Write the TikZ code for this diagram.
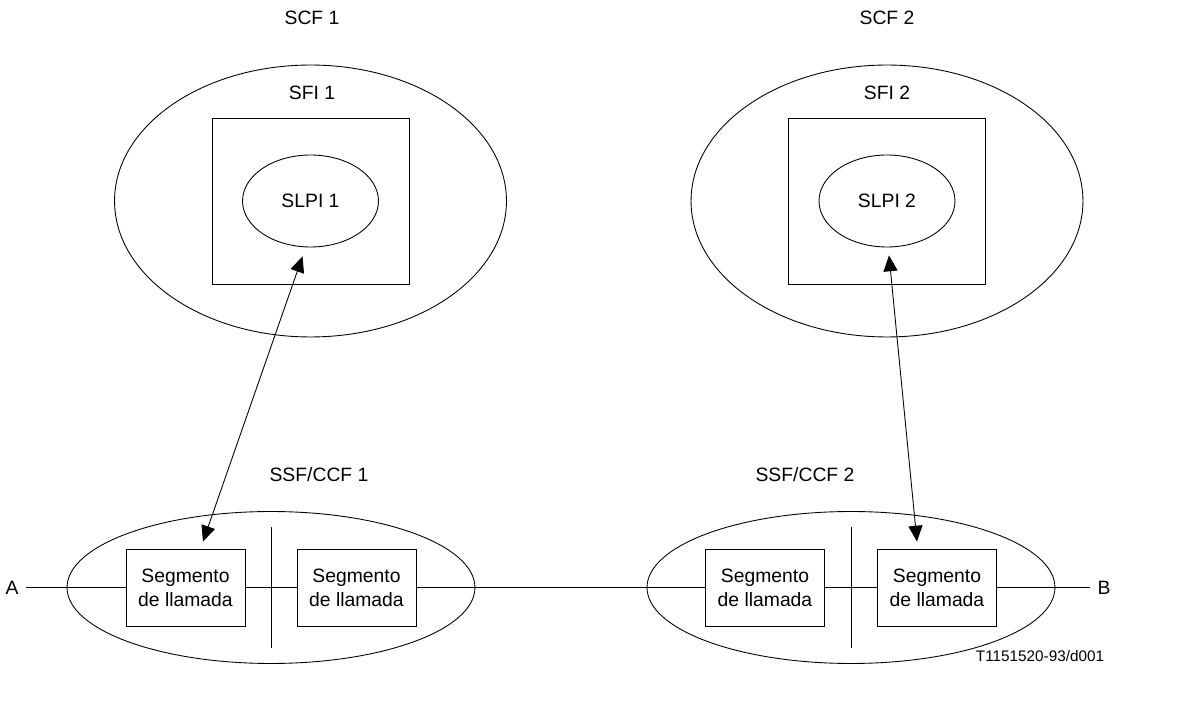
\documentclass[tikz,border=0pt]{standalone}
\usepackage{fontspec}
\setmainfont{Liberation Sans}
\usetikzlibrary{shapes.geometric,arrows.meta,positioning,calc}

\begin{document}
\begin{tikzpicture}[
        x=0.02cm, y=-0.02cm,
        line width=0.5pt,
        every node/.style={font=\fontsize{11pt}{13.5pt}\selectfont, inner sep=0pt},
        scf/.style={ellipse, draw, minimum width=7.84cm, minimum height=5.44cm}, % elipse externa SCF
        sfi/.style={rectangle, draw, minimum width=3.94cm, minimum height=3.32cm}, % caixa SFI
        slpi/.style={ellipse, draw, minimum width=2.72cm, minimum height=1.84cm}, % elipse interna SLPI
        ssf/.style={ellipse, draw, minimum width=8.16cm, minimum height=3.04cm}, % elipse SSF/CCF
        segmento/.style={rectangle, draw, fill=white, align=center, minimum width=2.38cm, minimum height=1.54cm},
        ponta/.style={inner sep=4pt}, % extremos A e B
        seta/.style={{Triangle[length=9pt,width=8pt]}-{Triangle[length=9pt,width=8pt]}}
    ]
    \useasboundingbox (0,0) rectangle (1198,702);

    % lado 1
    \node[scf] (scf1) at (310.5,201) {};
    \node[sfi] (sfi1) at (310.5,201) {};
    \node[slpi] (slpi1) at (310.5,201) {SLPI 1};
    \node (lscf1) at (312,18) {SCF 1};
    \node (lsfi1) at (312,93) {SFI 1};

    % lado 2
    \node[scf] (scf2) at (887,201) {};
    \node[sfi] (sfi2) at (887,201) {};
    \node[slpi] (slpi2) at (887,201) {SLPI 2};
    \node (lscf2) at (887,18) {SCF 2};
    \node (lsfi2) at (887,93) {SFI 2};

    % SSF/CCF
    \node[ssf] (ssf1) at (271,587.5) {};
    \node[ssf] (ssf2) at (851,587.5) {};
    \node (lssf1) at (319,475) {SSF/CCF 1};
    \node (lssf2) at (805,475) {SSF/CCF 2};
    \draw ($(ssf1)+(0,-60.5)$) -- ($(ssf1)+(0,60.5)$);
    \draw ($(ssf2)+(0,-60.5)$) -- ($(ssf2)+(0,60.5)$);

    \node[segmento] (seg1) at (185.5,587.5) {Segmento\\de llamada};
    \node[segmento] (seg2) at (356.5,587.5) {Segmento\\de llamada};
    \node[segmento] (seg3) at (765,587.5) {Segmento\\de llamada};
    \node[segmento] (seg4) at (937,587.5) {Segmento\\de llamada};

    \node[ponta] (A) at (12,587.5) {A};
    \node[ponta] (B) at (1104,587.5) {B};
    \draw (A) -- (seg1) -- (seg2) -- (seg3) -- (seg4) -- (B);

    \draw[seta] ($(slpi1.south)+(-8,9)$) -- ($(seg1.north)+(17.5,-7)$);
    \draw[seta] ($(slpi2.south)+(2,8)$) -- ($(seg4.north)+(-20,-7)$);

    \node[font=\fontsize{8.7pt}{10pt}\selectfont] (ref) at (1040,656) {T1151520-93/d001};
\end{tikzpicture}
\end{document}
